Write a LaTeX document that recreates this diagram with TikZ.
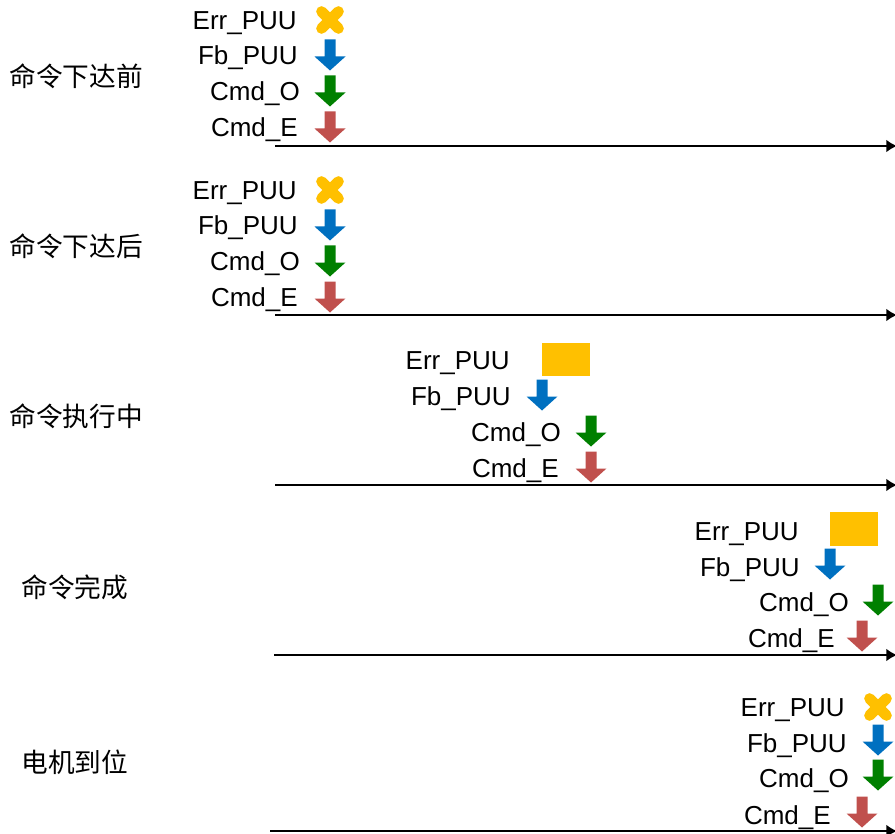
\documentclass[tikz,border=0pt]{standalone}
\usepackage{fontspec}
\setmainfont{Liberation Sans}
\newfontfamily\cjk{Noto Sans CJK SC}
\usepackage{tikz}
\usetikzlibrary{positioning}
\usetikzlibrary{arrows.meta}
\usepackage{xcolor}

\definecolor{errYellow}{HTML}{FFC000}
\definecolor{fbBlue}{HTML}{0070C0}
\definecolor{cmdGreen}{HTML}{008000}
\definecolor{cmdRed}{HTML}{C0504D}

\tikzset{
  sig/.style={anchor=east, inner sep=0pt, text height=14pt, text depth=0pt,
    font=\fontsize{19.5}{22}\selectfont},
  stage/.style={inner sep=0pt, text height=15pt, text depth=0pt,
    font=\cjk\fontsize{20}{22}\selectfont},
  timeline/.style={line width=1.2pt, -{Latex[length=8pt,width=9.5pt]}},
  pics/downarr/.style={code={
    \fill[#1] (-5.5,-15.5) -- (5.5,-15.5) -- (5.5,1.5) -- (15.5,1.5)
      -- (0,15.5) -- (-15.5,1.5) -- (-5.5,1.5) -- cycle;
  }},
  pics/errx/.style={code={
    \draw[errYellow, line width=8pt, line cap=round]
      (-8.5,-8.5) -- (8.5,8.5) (-8.5,8.5) -- (8.5,-8.5);
  }}
}

\begin{document}
\begin{tikzpicture}[x=0.75pt, y=-0.75pt]
    \useasboundingbox (0,0) rectangle (895,834);

    % Stage 1: before command
    \node[stage] (s1) at (76,77) {命令下达前};
    \node[sig] (s1err) at (297,20) {Err\_PUU};
    \node[sig] (s1fb) at (298,55) {Fb\_PUU};
    \node[sig] (s1co) at (300,91) {Cmd\_O};
    \node[sig] (s1ce) at (298,127) {Cmd\_E};
    \pic at (330,20) {errx};
    \pic at (330,55) {downarr=fbBlue};
    \pic at (330,91) {downarr=cmdGreen};
    \pic at (330,127) {downarr=cmdRed};
    \coordinate (t1a) at (275,146);
    \coordinate (t1b) at (897,146);
    \draw[timeline] (t1a) -- (t1b);

    % Stage 2: after command
    \node[stage] (s2) at (76,247) {命令下达后};
    \node[sig] (s2err) at (297,190) {Err\_PUU};
    \node[sig] (s2fb) at (298,225) {Fb\_PUU};
    \node[sig] (s2co) at (300,261) {Cmd\_O};
    \node[sig] (s2ce) at (298,297) {Cmd\_E};
    \pic at (330,190) {errx};
    \pic at (330,225) {downarr=fbBlue};
    \pic at (330,261) {downarr=cmdGreen};
    \pic at (330,297) {downarr=cmdRed};
    \coordinate (t2a) at (275,315);
    \coordinate (t2b) at (897,315);
    \draw[timeline] (t2a) -- (t2b);

    % Stage 3: executing
    \node[stage] (s3) at (76,416) {命令执行中};
    \node[sig] (s3err) at (510,360) {Err\_PUU};
    \node[sig] (s3fb) at (511,396) {Fb\_PUU};
    \node[sig] (s3co) at (561,432) {Cmd\_O};
    \node[sig] (s3ce) at (559,468) {Cmd\_E};
    \fill[errYellow] (542,343) rectangle (590,376);
    \pic at (542,395) {downarr=fbBlue};
    \pic at (591,431) {downarr=cmdGreen};
    \pic at (591,467) {downarr=cmdRed};
    \coordinate (t3a) at (275,485);
    \coordinate (t3b) at (897,485);
    \draw[timeline] (t3a) -- (t3b);

    % Stage 4: command done
    \node[stage] (s4) at (75,587) {命令完成};
    \node[sig] (s4err) at (799,531) {Err\_PUU};
    \node[sig] (s4fb) at (800,567) {Fb\_PUU};
    \node[sig] (s4co) at (849,602) {Cmd\_O};
    \node[sig] (s4ce) at (835,638) {Cmd\_E};
    \fill[errYellow] (830,512) rectangle (878,546);
    \pic at (830,564) {downarr=fbBlue};
    \pic at (878,600) {downarr=cmdGreen};
    \pic at (862,636) {downarr=cmdRed};
    \coordinate (t4a) at (274,655);
    \coordinate (t4b) at (897,655);
    \draw[timeline] (t4a) -- (t4b);

    % Stage 5: motor in position
    \node[stage] (s5) at (75,762) {电机到位};
    \node[sig] (s5err) at (845,707) {Err\_PUU};
    \node[sig] (s5fb) at (847,743) {Fb\_PUU};
    \node[sig] (s5co) at (849,778) {Cmd\_O};
    \node[sig] (s5ce) at (831,815) {Cmd\_E};
    \pic at (878,707) {errx};
    \pic at (878,740) {downarr=fbBlue};
    \pic at (878,775) {downarr=cmdGreen};
    \pic at (862,812) {downarr=cmdRed};
    \coordinate (t5a) at (270,831);
    \coordinate (t5b) at (897,831);
    \draw[timeline] (t5a) -- (t5b);
\end{tikzpicture}
\end{document}
